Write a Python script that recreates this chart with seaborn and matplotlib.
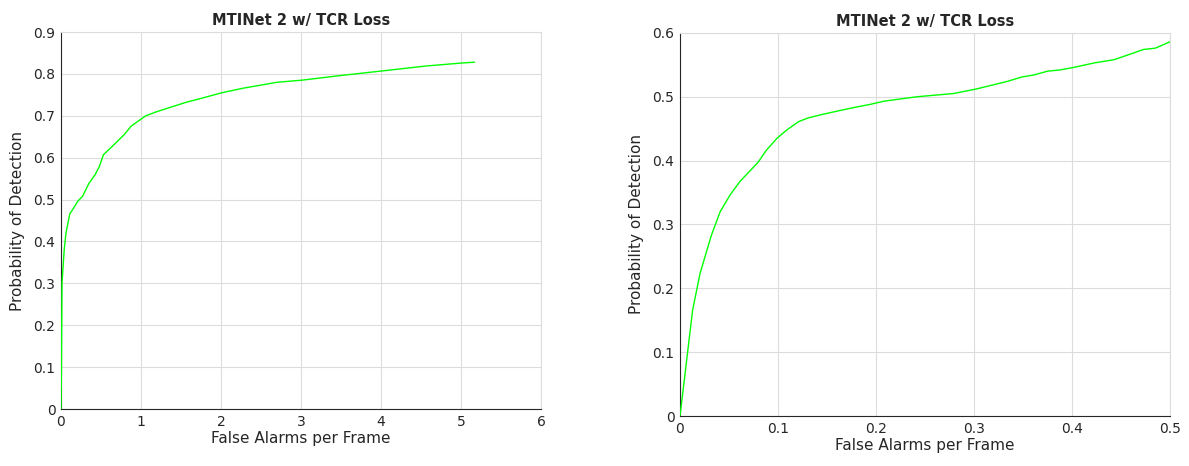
import numpy as np
import pandas as pd
import seaborn as sns
import matplotlib.pyplot as plt

# ROC curve, full range of false alarms (left panel)
fa_full = [0, 0.006, 0.009, 0.0125, 0.04, 0.0625, 0.11, 0.146, 0.21, 0.27, 0.35, 0.425, 0.48,
           0.53, 0.646, 0.79, 0.875, 1.0, 1.06, 1.2, 1.396, 1.56, 1.74, 2.01, 2.28,
           2.70, 3.01, 3.49, 4.01, 4.57, 5.01, 5.17]
pd_full = [0, 0.10, 0.20, 0.30, 0.38, 0.42, 0.466, 0.476, 0.496, 0.508, 0.539, 0.559, 0.579,
           0.607, 0.628, 0.655, 0.675, 0.692, 0.700, 0.710, 0.722, 0.732, 0.741, 0.755, 0.766,
           0.780, 0.785, 0.796, 0.807, 0.819, 0.826, 0.828]

# ROC curve, zoomed to low false alarm rate (right panel)
fa_zoom = [0, 0.0129, 0.0204, 0.032, 0.041, 0.051, 0.061, 0.080, 0.088, 0.099, 0.109,
           0.121, 0.131, 0.150, 0.177, 0.194, 0.208, 0.242, 0.279, 0.302, 0.334, 0.349,
           0.361, 0.375, 0.388, 0.402, 0.423, 0.443, 0.460, 0.473, 0.485, 0.500]
pd_zoom = [0, 0.166, 0.223, 0.283, 0.320, 0.346, 0.367, 0.398, 0.416, 0.435, 0.448,
           0.461, 0.467, 0.474, 0.483, 0.488, 0.493, 0.500, 0.505, 0.512, 0.524, 0.531,
           0.534, 0.540, 0.542, 0.546, 0.553, 0.558, 0.567, 0.574, 0.576, 0.586]

title = "MTINet 2 w/ TCR Loss"

sns.set_style("white")
plt.rcParams['font.family'] = ['DejaVu Sans']

fig = plt.figure(figsize=(11.89, 4.66), dpi=100)
ax1 = fig.add_axes([0.0513, 0.1223, 0.4037, 0.809])
ax2 = fig.add_axes([0.5719, 0.107, 0.4121, 0.8225])

panels = [
    (ax1, fa_full, pd_full, (0, 6), np.arange(0, 7, 1), (0, 0.9), np.arange(0, 0.91, 0.1)),
    (ax2, fa_zoom, pd_zoom, (0, 0.5), np.arange(0, 0.51, 0.1), (0, 0.6), np.arange(0, 0.61, 0.1)),
]

for ax, x, y, xlim, xticks, ylim, yticks in panels:
    df = pd.DataFrame({'fa': x, 'pd': y})
    sns.lineplot(data=df, x='fa', y='pd', ax=ax, sort=False, estimator=None,
                 color=(0, 1, 0), linewidth=1.0, zorder=3)
    ax.set_xlim(*xlim)
    ax.set_ylim(*ylim)
    ax.set_xticks(xticks)
    ax.set_yticks(yticks)
    ax.set_xticklabels([f"{t:g}" for t in xticks])
    ax.set_yticklabels([f"{t:g}" for t in yticks])
    ax.grid(True, color='#dcdcdc', linewidth=0.8)
    ax.tick_params(direction='in', length=3, width=0.8, colors='#262626',
                   labelsize=10, pad=4)
    for side in ['left', 'bottom']:
        ax.spines[side].set_color('#262626')
        ax.spines[side].set_linewidth(0.8)
    for side in ['top', 'right']:
        ax.spines[side].set_color('#dcdcdc')
        ax.spines[side].set_linewidth(0.8)
    ax.set_title(title, fontsize=10.5, fontweight='bold', pad=5)
    ax.set_xlabel("False Alarms per Frame", fontsize=11, color='#262626', labelpad=2)
    ax.set_ylabel("Probability of Detection", fontsize=11, color='#262626', labelpad=6)

fig.savefig("out.png", dpi=100)
